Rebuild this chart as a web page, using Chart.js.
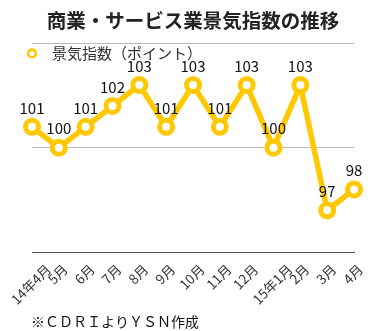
<!DOCTYPE html>
<html lang="ja">
<head>
<meta charset="utf-8">
<title>商業・サービス業景気指数の推移</title>
<script src="https://cdn.jsdelivr.net/npm/chart.js@4/dist/chart.umd.min.js"></script>
<style>
  html, body { margin: 0; padding: 0; background: #fff; }
  #chart { display: block; }
</style>
</head>
<body>
<canvas id="chart" width="388" height="331"></canvas>
<script>
  'use strict'

  const months = ['14年4月', '5月', '6月', '7月', '8月', '9月', '10月', '11月', '12月', '15年1月', '2月', '3月', '4月']
  const index = [101, 100, 101, 102, 103, 101, 103, 101, 103, 100, 103, 97, 98]
  const seriesName = '景気指数（ポイント）'
  const chartTitle = '商業・サービス業景気指数の推移'
  const sourceNote = '※ＣＤＲＩよりＹＳＮ作成'

  const FONT = '"Noto Sans CJK JP", "Noto Sans", sans-serif'
  const GOLD = '#FFC800'

  // value labels, slanted month labels, legend and source note
  const annotate = {
    id: 'annotate',
    afterDatasetsDraw (chart) {
      const ctx = chart.ctx
      const meta = chart.getDatasetMeta(0)
      ctx.save()
      ctx.font = '15px ' + FONT
      ctx.fillStyle = '#111'
      ctx.textAlign = 'center'
      ctx.textBaseline = 'middle'
      meta.data.forEach((pt, i) => {
        ctx.fillText(String(chart.data.datasets[0].data[i]), pt.x, pt.y - 19)
      })
      ctx.restore()
    },
    afterDraw (chart) {
      const ctx = chart.ctx
      const area = chart.chartArea
      const xScale = chart.scales.x

      // month labels, rotated and centred under each tick
      const fs = 13.5
      ctx.save()
      ctx.font = fs + 'px ' + FONT
      ctx.fillStyle = '#333'
      ctx.textAlign = 'center'
      ctx.textBaseline = 'middle'
      chart.data.labels.forEach((lab, i) => {
        const x = xScale.getPixelForTick(i)
        const w = ctx.measureText(lab).width
        const y = area.bottom + 10 + 0.354 * (w + fs)
        ctx.save()
        ctx.translate(x - 1, y)
        ctx.rotate(-Math.PI / 4)
        ctx.fillText(lab, 0, 0)
        ctx.restore()
      })
      ctx.restore()

      // legend
      const ds = chart.data.datasets[0]
      ctx.save()
      ctx.beginPath()
      ctx.arc(area.left, area.top + 10, 3.8, 0, Math.PI * 2)
      ctx.fillStyle = '#fff'
      ctx.fill()
      ctx.lineWidth = 2.6
      ctx.strokeStyle = ds.borderColor
      ctx.stroke()
      ctx.font = '15px ' + FONT
      ctx.fillStyle = '#333'
      ctx.textAlign = 'left'
      ctx.textBaseline = 'middle'
      ctx.fillText(ds.label, area.left + 20, area.top + 10)

      // source note
      ctx.font = '14px ' + FONT
      ctx.fillStyle = '#111'
      ctx.fillText(sourceNote, 31, 322)
      ctx.restore()
    }
  }

  new Chart(document.getElementById('chart'), {
    type: 'line',
    data: {
      labels: months,
      datasets: [{
        label: seriesName,
        data: index,
        borderColor: GOLD,
        borderWidth: 5.5,
        tension: 0,
        pointRadius: 6.5,
        pointHoverRadius: 6.5,
        pointBorderWidth: 5,
        pointBackgroundColor: '#fff',
        pointBorderColor: GOLD,
        clip: false
      }]
    },
    options: {
      responsive: false,
      animation: false,
      events: [],
      layout: {
        padding: { left: 32, right: 34, top: 0, bottom: 79 }
      },
      scales: {
        x: {
          offset: false,
          grid: { display: false, drawTicks: false },
          border: { display: true, color: '#555', width: 1 },
          ticks: { display: false }
        },
        y: {
          min: 95,
          max: 105,
          ticks: { display: false, stepSize: 5 },
          grid: { color: '#bbb', lineWidth: 1, drawTicks: false },
          border: { display: false }
        }
      },
      plugins: {
        legend: { display: false },
        tooltip: { enabled: false },
        title: {
          display: true,
          text: chartTitle,
          color: '#222',
          font: { family: FONT, size: 19.5, weight: 'bold', lineHeight: 1.2 },
          padding: { top: 9, bottom: 11 }
        }
      }
    },
    plugins: [annotate]
  })
</script>
</body>
</html>
